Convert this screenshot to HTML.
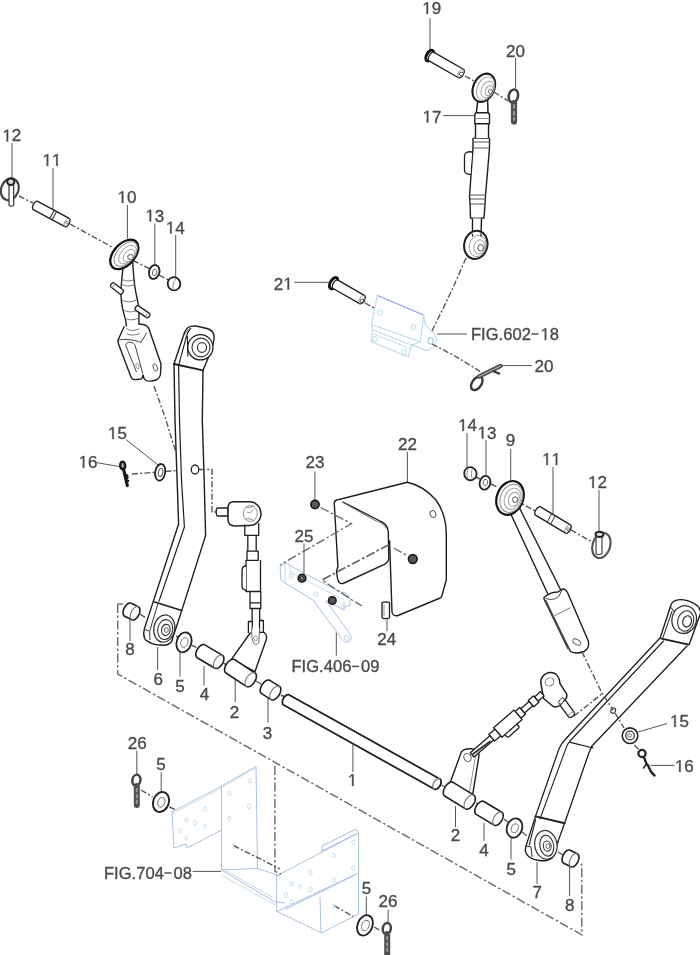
<!DOCTYPE html>
<html><head><meta charset="utf-8"><style>
html,body{margin:0;padding:0;background:#fff;}
body{width:700px;height:955px;overflow:hidden;}
svg{display:block;filter:blur(0.35px);}
text{font-family:"Liberation Sans",sans-serif;font-size:17px;fill:#4a4a4a;stroke:#4a4a4a;stroke-width:0.35px;}
.one{fill:#4a4a4a;stroke:#4a4a4a;stroke-width:42;}
.dash{fill:#4a4a4a;}
</style></head><body>
<svg width="700" height="955" viewBox="0 0 700 955">
<g transform="translate(422.25,14) scale(1.0,1)"><text x="9.45" y="0">9</text><path class="one" d="M515,0 L515,1237 L197,1010 L197,1180 L530,1409 L696,1409 L696,0 Z" transform="translate(0.00,0) scale(0.008301,-0.008301)"/></g>
<g transform="translate(506.05,56.5) scale(1.0,1)"><text x="0.00 9.45" y="0">20</text></g>
<g transform="translate(422.55,122.5) scale(1.0,1)"><text x="9.45" y="0">7</text><path class="one" d="M515,0 L515,1237 L197,1010 L197,1180 L530,1409 L696,1409 L696,0 Z" transform="translate(0.00,0) scale(0.008301,-0.008301)"/></g>
<g transform="translate(2.35,141.4) scale(1.0,1)"><text x="9.45" y="0">2</text><path class="one" d="M515,0 L515,1237 L197,1010 L197,1180 L530,1409 L696,1409 L696,0 Z" transform="translate(0.00,0) scale(0.008301,-0.008301)"/></g>
<g transform="translate(42.45,165.9) scale(1.0,1)"><path class="one" d="M515,0 L515,1237 L197,1010 L197,1180 L530,1409 L696,1409 L696,0 Z" transform="translate(0.00,0) scale(0.008301,-0.008301)"/><path class="one" d="M515,0 L515,1237 L197,1010 L197,1180 L530,1409 L696,1409 L696,0 Z" transform="translate(9.45,0) scale(0.008301,-0.008301)"/></g>
<g transform="translate(117.55,203) scale(1.0,1)"><text x="9.45" y="0">0</text><path class="one" d="M515,0 L515,1237 L197,1010 L197,1180 L530,1409 L696,1409 L696,0 Z" transform="translate(0.00,0) scale(0.008301,-0.008301)"/></g>
<g transform="translate(145.35,221.5) scale(1.0,1)"><text x="9.45" y="0">3</text><path class="one" d="M515,0 L515,1237 L197,1010 L197,1180 L530,1409 L696,1409 L696,0 Z" transform="translate(0.00,0) scale(0.008301,-0.008301)"/></g>
<g transform="translate(165.85,233.5) scale(1.0,1)"><text x="9.45" y="0">4</text><path class="one" d="M515,0 L515,1237 L197,1010 L197,1180 L530,1409 L696,1409 L696,0 Z" transform="translate(0.00,0) scale(0.008301,-0.008301)"/></g>
<g transform="translate(273.85,289.5) scale(1.0,1)"><text x="0.00" y="0">2</text><path class="one" d="M515,0 L515,1237 L197,1010 L197,1180 L530,1409 L696,1409 L696,0 Z" transform="translate(9.45,0) scale(0.008301,-0.008301)"/></g>
<g transform="translate(534.55,372) scale(1.0,1)"><text x="0.00 9.45" y="0">20</text></g>
<g transform="translate(458.15,431) scale(1.0,1)"><text x="9.45" y="0">4</text><path class="one" d="M515,0 L515,1237 L197,1010 L197,1180 L530,1409 L696,1409 L696,0 Z" transform="translate(0.00,0) scale(0.008301,-0.008301)"/></g>
<g transform="translate(477.55,438.5) scale(1.0,1)"><text x="9.45" y="0">3</text><path class="one" d="M515,0 L515,1237 L197,1010 L197,1180 L530,1409 L696,1409 L696,0 Z" transform="translate(0.00,0) scale(0.008301,-0.008301)"/></g>
<g transform="translate(505.77,446.4) scale(1.0,1)"><text x="0.00" y="0">9</text></g>
<g transform="translate(542.05,465) scale(1.0,1)"><path class="one" d="M515,0 L515,1237 L197,1010 L197,1180 L530,1409 L696,1409 L696,0 Z" transform="translate(0.00,0) scale(0.008301,-0.008301)"/><path class="one" d="M515,0 L515,1237 L197,1010 L197,1180 L530,1409 L696,1409 L696,0 Z" transform="translate(9.45,0) scale(0.008301,-0.008301)"/></g>
<g transform="translate(588.05,488) scale(1.0,1)"><text x="9.45" y="0">2</text><path class="one" d="M515,0 L515,1237 L197,1010 L197,1180 L530,1409 L696,1409 L696,0 Z" transform="translate(0.00,0) scale(0.008301,-0.008301)"/></g>
<g transform="translate(397.95,449.7) scale(1.0,1)"><text x="0.00 9.45" y="0">22</text></g>
<g transform="translate(305.45,468) scale(1.0,1)"><text x="0.00 9.45" y="0">23</text></g>
<g transform="translate(107.95,438.9) scale(1.0,1)"><text x="9.45" y="0">5</text><path class="one" d="M515,0 L515,1237 L197,1010 L197,1180 L530,1409 L696,1409 L696,0 Z" transform="translate(0.00,0) scale(0.008301,-0.008301)"/></g>
<g transform="translate(78.55,467.7) scale(1.0,1)"><text x="9.45" y="0">6</text><path class="one" d="M515,0 L515,1237 L197,1010 L197,1180 L530,1409 L696,1409 L696,0 Z" transform="translate(0.00,0) scale(0.008301,-0.008301)"/></g>
<g transform="translate(294.55,542) scale(1.0,1)"><text x="0.00 9.45" y="0">25</text></g>
<g transform="translate(377.25,645) scale(1.0,1)"><text x="0.00 9.45" y="0">24</text></g>
<g transform="translate(125.27,654.7) scale(1.0,1)"><text x="0.00" y="0">8</text></g>
<g transform="translate(153.47,685.3) scale(1.0,1)"><text x="0.00" y="0">6</text></g>
<g transform="translate(175.37,691.8) scale(1.0,1)"><text x="0.00" y="0">5</text></g>
<g transform="translate(199.77,699.6) scale(1.0,1)"><text x="0.00" y="0">4</text></g>
<g transform="translate(229.77,717.5) scale(1.0,1)"><text x="0.00" y="0">2</text></g>
<g transform="translate(262.77,738.8) scale(1.0,1)"><text x="0.00" y="0">3</text></g>
<g transform="translate(347.77,786) scale(1.0,1)"><path class="one" d="M515,0 L515,1237 L197,1010 L197,1180 L530,1409 L696,1409 L696,0 Z" transform="translate(0.00,0) scale(0.008301,-0.008301)"/></g>
<g transform="translate(669.95,727) scale(1.0,1)"><text x="9.45" y="0">5</text><path class="one" d="M515,0 L515,1237 L197,1010 L197,1180 L530,1409 L696,1409 L696,0 Z" transform="translate(0.00,0) scale(0.008301,-0.008301)"/></g>
<g transform="translate(674.85,772) scale(1.0,1)"><text x="9.45" y="0">6</text><path class="one" d="M515,0 L515,1237 L197,1010 L197,1180 L530,1409 L696,1409 L696,0 Z" transform="translate(0.00,0) scale(0.008301,-0.008301)"/></g>
<g transform="translate(127.85,749.3) scale(1.0,1)"><text x="0.00 9.45" y="0">26</text></g>
<g transform="translate(156.37,769.9) scale(1.0,1)"><text x="0.00" y="0">5</text></g>
<g transform="translate(450.77,841) scale(1.0,1)"><text x="0.00" y="0">2</text></g>
<g transform="translate(479.27,856) scale(1.0,1)"><text x="0.00" y="0">4</text></g>
<g transform="translate(506.57,875) scale(1.0,1)"><text x="0.00" y="0">5</text></g>
<g transform="translate(532.57,898.4) scale(1.0,1)"><text x="0.00" y="0">7</text></g>
<g transform="translate(565.07,910.6) scale(1.0,1)"><text x="0.00" y="0">8</text></g>
<g transform="translate(361.67,894.3) scale(1.0,1)"><text x="0.00" y="0">5</text></g>
<g transform="translate(378.55,907.2) scale(1.0,1)"><text x="0.00 9.45" y="0">26</text></g>
<g transform="translate(471.00,340) scale(0.975,1)"><text x="0.00 10.38 15.11 28.33 33.05 42.51 51.96 80.82" y="0">FIG.6028</text><rect class="dash" x="61.92" y="-6.7" width="7.4" height="1.4"/><path class="one" d="M515,0 L515,1237 L197,1010 L197,1180 L530,1409 L696,1409 L696,0 Z" transform="translate(71.37,0) scale(0.008301,-0.008301)"/></g>
<g transform="translate(291.50,672.4) scale(0.975,1)"><text x="0.00 10.38 15.11 28.33 33.05 42.51 51.96 71.37 80.82" y="0">FIG.40609</text><rect class="dash" x="61.92" y="-6.7" width="7.4" height="1.4"/></g>
<g transform="translate(104.00,879) scale(0.975,1)"><text x="0.00 10.38 15.11 28.33 33.05 42.51 51.96 71.37 80.82" y="0">FIG.70408</text><rect class="dash" x="61.92" y="-6.7" width="7.4" height="1.4"/></g>
<line x1="430" y1="18" x2="430" y2="50" stroke="#555" stroke-width="1.0"/>
<line x1="515.6" y1="58" x2="515.6" y2="88" stroke="#555" stroke-width="1.0"/>
<line x1="443" y1="115.6" x2="474" y2="115.6" stroke="#555" stroke-width="1.0"/>
<line x1="12" y1="143" x2="12" y2="178" stroke="#555" stroke-width="1.0"/>
<line x1="53" y1="168" x2="53" y2="210" stroke="#555" stroke-width="1.0"/>
<line x1="127.4" y1="205" x2="127.4" y2="238.5" stroke="#555" stroke-width="1.0"/>
<line x1="154.8" y1="223.6" x2="154.8" y2="265" stroke="#555" stroke-width="1.0"/>
<line x1="175.7" y1="235" x2="175.7" y2="277" stroke="#555" stroke-width="1.0"/>
<line x1="294.3" y1="282.3" x2="328.6" y2="282.3" stroke="#555" stroke-width="1.0"/>
<line x1="437" y1="334" x2="467" y2="334" stroke="#555" stroke-width="1.0"/>
<line x1="501" y1="365.6" x2="532" y2="365.6" stroke="#555" stroke-width="1.0"/>
<line x1="467" y1="433" x2="467" y2="468" stroke="#555" stroke-width="1.0"/>
<line x1="486" y1="440" x2="486" y2="475.6" stroke="#555" stroke-width="1.0"/>
<line x1="510.7" y1="449" x2="510.7" y2="480" stroke="#555" stroke-width="1.0"/>
<line x1="553" y1="467" x2="553" y2="514" stroke="#555" stroke-width="1.0"/>
<line x1="599" y1="490" x2="599" y2="531" stroke="#555" stroke-width="1.0"/>
<line x1="407.4" y1="452" x2="407.4" y2="482" stroke="#555" stroke-width="1.0"/>
<line x1="314.9" y1="471.4" x2="314.9" y2="500" stroke="#555" stroke-width="1.0"/>
<line x1="126" y1="439.5" x2="158.6" y2="465.4" stroke="#555" stroke-width="1.0"/>
<line x1="96" y1="462.5" x2="121.7" y2="467" stroke="#555" stroke-width="1.0"/>
<line x1="304" y1="543.6" x2="304" y2="574.3" stroke="#555" stroke-width="1.0"/>
<line x1="387" y1="619.7" x2="387" y2="631.3" stroke="#555" stroke-width="1.0"/>
<line x1="336.3" y1="632.6" x2="336.3" y2="655.7" stroke="#555" stroke-width="1.0"/>
<line x1="130" y1="619" x2="130" y2="641" stroke="#555" stroke-width="1.0"/>
<line x1="157.6" y1="647" x2="157.6" y2="670" stroke="#555" stroke-width="1.0"/>
<line x1="180" y1="652" x2="180" y2="676.6" stroke="#555" stroke-width="1.0"/>
<line x1="204" y1="666" x2="204" y2="685.6" stroke="#555" stroke-width="1.0"/>
<line x1="235.2" y1="679" x2="235.2" y2="702" stroke="#555" stroke-width="1.0"/>
<line x1="268" y1="694.6" x2="268" y2="722.8" stroke="#555" stroke-width="1.0"/>
<line x1="352.9" y1="744.6" x2="352.9" y2="772" stroke="#555" stroke-width="1.0"/>
<line x1="637.9" y1="732" x2="667" y2="723.6" stroke="#555" stroke-width="1.0"/>
<line x1="650.7" y1="765.4" x2="674.3" y2="765.4" stroke="#555" stroke-width="1.0"/>
<line x1="136.8" y1="750.6" x2="136.8" y2="775" stroke="#555" stroke-width="1.0"/>
<line x1="161.2" y1="772.4" x2="161.2" y2="791.7" stroke="#555" stroke-width="1.0"/>
<line x1="192.6" y1="871.4" x2="220.9" y2="871.4" stroke="#555" stroke-width="1.0"/>
<line x1="455.5" y1="806" x2="455.5" y2="827" stroke="#555" stroke-width="1.0"/>
<line x1="484" y1="823" x2="484" y2="841" stroke="#555" stroke-width="1.0"/>
<line x1="511" y1="837.7" x2="511" y2="859.6" stroke="#555" stroke-width="1.0"/>
<line x1="537" y1="862" x2="537" y2="884" stroke="#555" stroke-width="1.0"/>
<line x1="569.6" y1="867" x2="569.6" y2="896" stroke="#555" stroke-width="1.0"/>
<line x1="366.3" y1="896.5" x2="366.3" y2="915" stroke="#555" stroke-width="1.0"/>
<line x1="388.1" y1="909.5" x2="388.1" y2="923.7" stroke="#555" stroke-width="1.0"/>
<path d="M377.4,295.4 L423.7,315.1" fill="none" stroke="#a4aaf0" stroke-width="1.3" stroke-linejoin="round" stroke-linecap="round" />
<path d="M377.4,295.4 L371.4,324.6 L420.3,341.7 L423.7,315.1" fill="none" stroke="#b9dbe8" stroke-width="1.1" stroke-linejoin="round" stroke-linecap="round" />
<path d="M423.7,315.1 L425.4,324.6 L434.9,334.9 C436.5,338 436.5,342 435.7,343.4 C434.5,347 432,348.6 428,350.3 C425,350.5 422,349.5 419.5,347.8 C417,346.5 414,345.5 411.7,345.1" fill="none" stroke="#b9dbe8" stroke-width="1.1" stroke-linejoin="round" stroke-linecap="round" />
<path d="M371.4,324.6 L372.3,329.7 L411.7,345.1 L420.3,341.7 M372.3,329.7 L371.4,341.7 L408.3,357.1 L411.7,345.1 M372.3,331.5 L371.4,341.7" fill="none" stroke="#b9dbe8" stroke-width="1.1" stroke-linejoin="round" stroke-linecap="round" />
<path d="M374,334 L410,348.5" fill="none" stroke="#c9d3ef" stroke-width="0.9" stroke-linejoin="round" stroke-linecap="round" />
<ellipse cx="380" cy="312.6" rx="2.3" ry="2.7" transform="rotate(0 380 312.6)" fill="none" stroke="#b9dbe8" stroke-width="1.0"/>
<ellipse cx="413.4" cy="327.1" rx="2.3" ry="2.7" transform="rotate(0 413.4 327.1)" fill="none" stroke="#b9dbe8" stroke-width="1.0"/>
<ellipse cx="374.9" cy="339.1" rx="2.3" ry="2.7" transform="rotate(0 374.9 339.1)" fill="none" stroke="#b9dbe8" stroke-width="1.0"/>
<ellipse cx="404" cy="352" rx="2.3" ry="2.7" transform="rotate(0 404 352)" fill="none" stroke="#b9dbe8" stroke-width="1.0"/>
<ellipse cx="430.6" cy="340.9" rx="2.6" ry="3.1" transform="rotate(0 430.6 340.9)" fill="none" stroke="#9fc6dc" stroke-width="1.1"/>
<path d="M465,76 L474,81" fill="none" stroke="#555555" stroke-width="1.4" stroke-dasharray="6 2.2 2 2.2"/>
<path d="M494,92 L508,101" fill="none" stroke="#555555" stroke-width="1.4" stroke-dasharray="6 2.2 2 2.2"/>
<path d="M466,258 L452,290 L432,331" fill="none" stroke="#555555" stroke-width="1.4" stroke-dasharray="6 2.2 2 2.2"/>
<path d="M365,303 L374,308" fill="none" stroke="#555555" stroke-width="1.4" stroke-dasharray="6 2.2 2 2.2"/>
<path d="M432,344 L455,356 L481,372" fill="none" stroke="#555555" stroke-width="1.4" stroke-dasharray="6 2.2 2 2.2"/>
<ellipse cx="429.8" cy="55.6" rx="6.0" ry="3.2" transform="rotate(119 429.8 55.6)" fill="#fff" stroke="#111" stroke-width="2.8"/>
<path d="M458.56,77.75 L459.03,77.91 L459.56,77.89 L460.16,77.71 L460.78,77.37 L461.41,76.87 L462.03,76.25 L462.61,75.52 L463.13,74.72 L463.56,73.86 L463.90,73.00 L464.12,72.15 L464.23,71.35 L464.21,70.64 L464.06,70.04 L463.80,69.57 L463.44,69.25 L433.94,52.35 L433.47,52.19 L432.94,52.21 L432.34,52.39 L431.72,52.73 L431.09,53.23 L430.47,53.85 L429.89,54.58 L429.37,55.38 L428.94,56.24 L428.60,57.10 L428.38,57.95 L428.27,58.75 L428.29,59.46 L428.44,60.06 L428.70,60.53 L429.06,60.85 Z" fill="#fff" stroke="#1e1e1e" stroke-width="1.3" stroke-linejoin="round" stroke-linecap="round" />
<path d="M463.44,69.25 L462.97,69.09 L462.44,69.11 L461.84,69.29 L461.22,69.63 L460.59,70.13 L459.97,70.75 L459.39,71.48 L458.87,72.28 L458.44,73.14 L458.10,74.00 L457.88,74.85 L457.77,75.65 L457.79,76.36 L457.94,76.96 L458.20,77.43 L458.56,77.75" fill="none" stroke="#777" stroke-width="0.9099999999999999" stroke-linejoin="round" stroke-linecap="round" />
<ellipse cx="461.5" cy="74" rx="2.2" ry="1.8" transform="rotate(0 461.5 74)" fill="none" stroke="#555" stroke-width="1.0"/>
<path d="M477.7,101.5 L476.3,112.8 M487.6,98.5 L488,112.8" fill="none" stroke="#1e1e1e" stroke-width="1.5" stroke-linejoin="round" stroke-linecap="round" />
<ellipse cx="483.8" cy="87.8" rx="10.5" ry="14.8" transform="rotate(25 483.8 87.8)" fill="#fff" stroke="#1a1a1a" stroke-width="2.0"/>
<ellipse cx="485.6" cy="88.6" rx="8.3" ry="12.3" transform="rotate(25 485.6 88.6)" fill="none" stroke="#999" stroke-width="0.9"/>
<ellipse cx="487.4" cy="89.6" rx="5.8" ry="8.8" transform="rotate(25 487.4 89.6)" fill="none" stroke="#999" stroke-width="0.9"/>
<ellipse cx="489" cy="90.6" rx="3.4" ry="5.2" transform="rotate(25 489 90.6)" fill="none" stroke="#888" stroke-width="0.9"/>
<ellipse cx="490.2" cy="91.4" rx="1.8" ry="2.2" transform="rotate(0 490.2 91.4)" fill="#fff" stroke="#666" stroke-width="0.9"/>
<path d="M474.8,115 C474.8,113.5 475.5,112.8 477,112.8 L487.5,112.8 C489,112.8 489.5,113.5 489.5,115 L489.5,123.8 L474.8,123.8 Z" fill="#fff" stroke="#1e1e1e" stroke-width="1.4" stroke-linejoin="round" stroke-linecap="round" />
<path d="M475,118.5 L489.3,118.5" fill="none" stroke="#888" stroke-width="0.9" stroke-linejoin="round" stroke-linecap="round" />
<path d="M475.5,123.8 L475.5,138 L473,138.5 L473,148 L469.5,196 L470,204 L470.5,218 L472.5,218.5 L472.5,236 M488.6,123.8 L488.5,138 L489.5,138.5 L489.5,148 L485.5,196 L485,204 L484,218 L481.5,218.5 L481,236" fill="none" stroke="#1e1e1e" stroke-width="1.4" stroke-linejoin="round" stroke-linecap="round" />
<path d="M473,138.5 L489.5,138.5 M473,142 L489.5,142 M473,148 L489.5,148 M469.6,195 L485.6,195 M470,199 L485.3,199 M470,204 L485,204 M470.5,218 L484,218" fill="none" stroke="#555" stroke-width="1.0" stroke-linejoin="round" stroke-linecap="round" />
<path d="M472,152 C467,151 464.5,153 464.5,156 L464.5,170 C464.5,173 467,174.5 470.5,174.5" fill="#fff" stroke="#1e1e1e" stroke-width="1.3" stroke-linejoin="round" stroke-linecap="round" />
<ellipse cx="475.8" cy="244.9" rx="11.6" ry="14.2" transform="rotate(12 475.8 244.9)" fill="#fff" stroke="#1e1e1e" stroke-width="2.0"/>
<ellipse cx="477.6" cy="246" rx="8.3" ry="10.8" transform="rotate(12 477.6 246)" fill="none" stroke="#999" stroke-width="0.9"/>
<ellipse cx="479.3" cy="247" rx="5.4" ry="7.2" transform="rotate(12 479.3 247)" fill="none" stroke="#999" stroke-width="0.9"/>
<ellipse cx="480.7" cy="247.8" rx="2.8" ry="3.2" transform="rotate(0 480.7 247.8)" fill="#fff" stroke="#555" stroke-width="1.0"/>
<path d="M472.5,234.5 L472.5,236 M481,233.8 L481,236" fill="none" stroke="#1e1e1e" stroke-width="1.3" stroke-linejoin="round" stroke-linecap="round" />
<ellipse cx="513.4" cy="96" rx="4.6" ry="6.6" transform="rotate(12 513.4 96)" fill="none" stroke="#444" stroke-width="2.6"/>
<path d="M514,103 L514,121.5" fill="none" stroke="#505050" stroke-width="6.2" stroke-linejoin="round" stroke-linecap="round" />
<path d="M514,105 L514,108 M514,112 L514,115 M514,118 L514,120" fill="none" stroke="#999" stroke-width="2.0" stroke-linejoin="round" stroke-linecap="round" />
<ellipse cx="333.6" cy="283.2" rx="6.2" ry="3.3" transform="rotate(120 333.6 283.2)" fill="#fff" stroke="#111" stroke-width="2.9"/>
<path d="M359.61,303.66 L360.06,303.82 L360.59,303.80 L361.17,303.63 L361.78,303.29 L362.40,302.81 L363.01,302.20 L363.58,301.48 L364.08,300.69 L364.51,299.86 L364.84,299.01 L365.06,298.18 L365.16,297.40 L365.14,296.70 L365.00,296.11 L364.75,295.65 L364.39,295.34 L337.89,280.14 L337.44,279.98 L336.91,280.00 L336.33,280.17 L335.72,280.51 L335.10,280.99 L334.49,281.60 L333.92,282.32 L333.42,283.11 L332.99,283.94 L332.66,284.79 L332.44,285.62 L332.34,286.40 L332.36,287.10 L332.50,287.69 L332.75,288.15 L333.11,288.46 Z" fill="#fff" stroke="#1e1e1e" stroke-width="1.3" stroke-linejoin="round" stroke-linecap="round" />
<path d="M364.39,295.34 L363.94,295.18 L363.41,295.20 L362.83,295.37 L362.22,295.71 L361.60,296.19 L360.99,296.80 L360.42,297.52 L359.92,298.31 L359.49,299.14 L359.16,299.99 L358.94,300.82 L358.84,301.60 L358.86,302.30 L359.00,302.89 L359.25,303.35 L359.61,303.66" fill="none" stroke="#777" stroke-width="0.9099999999999999" stroke-linejoin="round" stroke-linecap="round" />
<ellipse cx="362.5" cy="301" rx="2.4" ry="1.9" transform="rotate(0 362.5 301)" fill="none" stroke="#555" stroke-width="1.0"/>
<ellipse cx="476.8" cy="383.3" rx="4.6" ry="7.6" transform="rotate(35 476.8 383.3)" fill="none" stroke="#3a3a3a" stroke-width="2.4"/>
<path d="M479,376.5 L500.5,366" fill="none" stroke="#4a4a4a" stroke-width="4.2" stroke-linejoin="round" stroke-linecap="round" />
<path d="M479,376.5 L500.5,366" fill="none" stroke="#9a9a9a" stroke-width="1.4" stroke-linejoin="round" stroke-linecap="round" />
<path d="M494,371.5 L499,373.5" fill="none" stroke="#333" stroke-width="2.4" stroke-linejoin="round" stroke-linecap="round" />
<path d="M19,196 L33,203" fill="none" stroke="#555555" stroke-width="1.4" stroke-dasharray="6 2.2 2 2.2"/>
<path d="M70,224 L112,247" fill="none" stroke="#555555" stroke-width="1.4" stroke-dasharray="6 2.2 2 2.2"/>
<path d="M133,260.5 L150,269" fill="none" stroke="#555555" stroke-width="1.4" stroke-dasharray="6 2.2 2 2.2"/>
<path d="M159,275 L168.6,280" fill="none" stroke="#555555" stroke-width="1.4" stroke-dasharray="6 2.2 2 2.2"/>
<ellipse cx="9.8" cy="189.3" rx="8.6" ry="11.2" transform="rotate(20 9.8 189.3)" fill="none" stroke="#444" stroke-width="2.2"/>
<path d="M9,184 L9,205 C9,206.5 13.7,206.5 13.7,205 L13.7,184" fill="#fff" stroke="#333" stroke-width="1.2" stroke-linejoin="round" stroke-linecap="round" />
<ellipse cx="10.8" cy="181.8" rx="3.6" ry="3.2" transform="rotate(0 10.8 181.8)" fill="#ddd" stroke="#222" stroke-width="2.0"/>
<path d="M64.77,226.64 L65.21,226.77 L65.73,226.75 L66.29,226.56 L66.88,226.21 L67.48,225.73 L68.06,225.11 L68.59,224.40 L69.07,223.62 L69.46,222.79 L69.76,221.95 L69.96,221.13 L70.04,220.36 L70.00,219.68 L69.85,219.11 L69.59,218.66 L69.23,218.36 L37.73,201.36 L37.29,201.23 L36.77,201.25 L36.21,201.44 L35.62,201.79 L35.02,202.27 L34.44,202.89 L33.91,203.60 L33.43,204.38 L33.04,205.21 L32.74,206.05 L32.54,206.87 L32.46,207.64 L32.50,208.32 L32.65,208.89 L32.91,209.34 L33.27,209.64 Z" fill="#fff" stroke="#1e1e1e" stroke-width="1.3" stroke-linejoin="round" stroke-linecap="round" />
<path d="M69.23,218.36 L68.79,218.23 L68.27,218.25 L67.71,218.44 L67.12,218.79 L66.52,219.27 L65.94,219.89 L65.41,220.60 L64.93,221.38 L64.54,222.21 L64.24,223.05 L64.04,223.87 L63.96,224.64 L64.00,225.32 L64.15,225.89 L64.41,226.34 L64.77,226.64" fill="none" stroke="#777" stroke-width="0.9099999999999999" stroke-linejoin="round" stroke-linecap="round" />
<path d="M54.2,210.3 L49.8,218.5 M56.6,211.6 L52.2,219.8" fill="none" stroke="#333" stroke-width="1.1" stroke-linejoin="round" stroke-linecap="round" />
<ellipse cx="67.2" cy="222.6" rx="1.6" ry="1.3" transform="rotate(0 67.2 222.6)" fill="none" stroke="#555" stroke-width="0.8"/>
<ellipse cx="124.3" cy="254.4" rx="17.4" ry="10.6" transform="rotate(-48 124.3 254.4)" fill="#fff" stroke="#111" stroke-width="2.3"/>
<ellipse cx="125.8" cy="254" rx="14.6" ry="8.6" transform="rotate(-48 125.8 254)" fill="none" stroke="#888" stroke-width="1.0"/>
<ellipse cx="127.5" cy="254.6" rx="11" ry="6.6" transform="rotate(-48 127.5 254.6)" fill="none" stroke="#999" stroke-width="0.9"/>
<ellipse cx="129" cy="255.6" rx="7.2" ry="4.6" transform="rotate(-48 129 255.6)" fill="none" stroke="#999" stroke-width="0.9"/>
<ellipse cx="130.5" cy="257" rx="2.8" ry="2.6" transform="rotate(0 130.5 257)" fill="#fff" stroke="#555" stroke-width="1.0"/>
<ellipse cx="154.2" cy="272" rx="5.2" ry="7" transform="rotate(15 154.2 272)" fill="#fff" stroke="#222" stroke-width="1.8"/>
<ellipse cx="154.6" cy="272.4" rx="2.2" ry="3.3" transform="rotate(15 154.6 272.4)" fill="none" stroke="#666" stroke-width="0.9"/>
<ellipse cx="174" cy="283.8" rx="6.3" ry="6.6" transform="rotate(-20 174 283.8)" fill="#fff" stroke="#222" stroke-width="1.8"/>
<path d="M175.5,279 C173.5,282 172.5,286 173,289" fill="none" stroke="#888" stroke-width="0.9" stroke-linejoin="round" stroke-linecap="round" />
<path d="M123,268 C122,276 121,286 121,295 C121,305 123.5,313 125.6,320 L126.5,327 M132.7,262 C133,270 134,278 134.5,284 C135.5,293 138,301 139,309 L138.8,327" fill="none" stroke="#1e1e1e" stroke-width="1.4" stroke-linejoin="round" stroke-linecap="round" />
<path d="M121.5,279 C125,281.5 130,281.5 134,279.5 M121.2,284 C125,286.5 130,286.5 134.5,284.5 M122,300 C126,302.5 132,302.5 136.5,300 M123.5,310 C127,312.5 133,312.5 138.5,310 M124.5,318 C128,320.5 133.5,320.5 138.8,318" fill="none" stroke="#666" stroke-width="0.9" stroke-linejoin="round" stroke-linecap="round" />
<path d="M114.10,282.95 L113.83,282.80 L113.50,282.74 L113.14,282.76 L112.76,282.87 L112.36,283.06 L111.97,283.33 L111.60,283.66 L111.27,284.04 L110.98,284.46 L110.75,284.90 L110.59,285.34 L110.50,285.77 L110.49,286.17 L110.55,286.53 L110.69,286.83 L110.90,287.05 L119.90,294.05 L120.17,294.20 L120.50,294.26 L120.86,294.24 L121.24,294.13 L121.64,293.94 L122.03,293.67 L122.40,293.34 L122.73,292.96 L123.02,292.54 L123.25,292.10 L123.41,291.66 L123.50,291.23 L123.51,290.83 L123.45,290.47 L123.31,290.17 L123.10,289.95 Z" fill="#fff" stroke="#1e1e1e" stroke-width="1.3" stroke-linejoin="round" stroke-linecap="round" />
<path d="M110.90,287.05 L111.17,287.20 L111.50,287.26 L111.86,287.24 L112.24,287.13 L112.64,286.94 L113.03,286.67 L113.40,286.34 L113.73,285.96 L114.02,285.54 L114.25,285.10 L114.41,284.66 L114.50,284.23 L114.51,283.83 L114.45,283.47 L114.31,283.17 L114.10,282.95" fill="none" stroke="#777" stroke-width="0.9099999999999999" stroke-linejoin="round" stroke-linecap="round" />
<path d="M146.54,317.65 L146.81,317.78 L147.14,317.82 L147.50,317.77 L147.88,317.64 L148.26,317.42 L148.63,317.13 L148.98,316.78 L149.29,316.38 L149.55,315.94 L149.75,315.49 L149.89,315.04 L149.95,314.60 L149.93,314.20 L149.85,313.85 L149.69,313.56 L149.46,313.35 L138.46,305.85 L138.19,305.72 L137.86,305.68 L137.50,305.73 L137.12,305.86 L136.74,306.08 L136.37,306.37 L136.02,306.72 L135.71,307.12 L135.45,307.56 L135.25,308.01 L135.11,308.46 L135.05,308.90 L135.07,309.30 L135.15,309.65 L135.31,309.94 L135.54,310.15 Z" fill="#fff" stroke="#1e1e1e" stroke-width="1.3" stroke-linejoin="round" stroke-linecap="round" />
<path d="M149.46,313.35 L149.19,313.22 L148.86,313.18 L148.50,313.23 L148.12,313.36 L147.74,313.58 L147.37,313.87 L147.02,314.22 L146.71,314.62 L146.45,315.06 L146.25,315.51 L146.11,315.96 L146.05,316.40 L146.07,316.80 L146.15,317.15 L146.31,317.44 L146.54,317.65" fill="none" stroke="#777" stroke-width="0.9099999999999999" stroke-linejoin="round" stroke-linecap="round" />
<path d="M124,327 L118,340 L118.5,344 L131,377 C132,379.5 134,380 137,379.5 L141,379 C142.5,378 143,377 143,375 L144,378.5 C145,380.5 148,381.5 152,381 L156,380 C158.5,379 160,377 160.5,374 L161,364 L149,329 C148,326.5 146,325 143,324.5 L139,324" fill="#fff" stroke="#1e1e1e" stroke-width="1.4" stroke-linejoin="round" stroke-linecap="round" />
<path d="M136.4,371.7 L125.7,345.4 C126,343 128,342 130,342.2 C132.5,342.5 134.5,343.5 135.2,345.5 L142.6,373 M118.5,340 C125,338.5 135,340 141,342.5 L146.5,333" fill="none" stroke="#444" stroke-width="1.0" stroke-linejoin="round" stroke-linecap="round" />
<path d="M126.5,328.5 C129,331 135,331 139,329 M127,334 C130,335.5 135,335.5 139.3,333.5" fill="none" stroke="#666" stroke-width="0.9" stroke-linejoin="round" stroke-linecap="round" />
<ellipse cx="155.3" cy="367.5" rx="2" ry="3.8" transform="rotate(-20 155.3 367.5)" fill="none" stroke="#555" stroke-width="0.9"/>
<ellipse cx="137.5" cy="366" rx="1.4" ry="3" transform="rotate(-20 137.5 366)" fill="none" stroke="#888" stroke-width="0.8"/>
<path d="M154,386 L166,420 L172,440 L176,452" fill="none" stroke="#555555" stroke-width="1.4" stroke-dasharray="6 2.2 2 2.2"/>
<path d="M174,364 L175,420 L177.1,480 L178.6,524 L153.4,601.1 M203,370.4 L202.3,420 L204.2,480 L205.6,535.6 L181.7,610.6" fill="none" stroke="#1e1e1e" stroke-width="1.4" stroke-linejoin="round" stroke-linecap="round" />
<path d="M178.6,365.3 L179.5,420 L181.5,480 L184.4,527 L159,601.1" fill="none" stroke="#1e1e1e" stroke-width="1.2" stroke-linejoin="round" stroke-linecap="round" />
<path d="M174,364 L184.3,333 C185.5,330 186.5,328.5 188,327.5 C190,326.3 193,325.8 196,326 L207,328.5 C210.5,329.5 213,331.5 213.9,335 C214.5,338 213.5,344 211,351 L203,370.4" fill="#fff" stroke="#1e1e1e" stroke-width="1.4" stroke-linejoin="round" stroke-linecap="round" />
<path d="M178.6,365.3 L186.3,337 C187,334 188,331 190.5,328.5 M187.3,336 L187.8,356" fill="none" stroke="#1e1e1e" stroke-width="1.1" stroke-linejoin="round" stroke-linecap="round" />
<path d="M174,364 L203,370.4" fill="none" stroke="#1e1e1e" stroke-width="1.8" stroke-linejoin="round" stroke-linecap="round" />
<ellipse cx="200.4" cy="347.3" rx="12.6" ry="12.6" transform="rotate(0 200.4 347.3)" fill="#fff" stroke="#1e1e1e" stroke-width="1.3"/>
<ellipse cx="201" cy="347.5" rx="9" ry="9.4" transform="rotate(0 201 347.5)" fill="none" stroke="#333" stroke-width="1.1"/>
<ellipse cx="202" cy="347.5" rx="4.6" ry="4.8" transform="rotate(0 202 347.5)" fill="#fff" stroke="#333" stroke-width="1.2"/>
<path d="M184.5,335 C186,331 188.5,329 191,328.5" fill="none" stroke="#555" stroke-width="0.9" stroke-linejoin="round" stroke-linecap="round" />
<ellipse cx="195" cy="469.5" rx="3.8" ry="4.5" transform="rotate(0 195 469.5)" fill="#fff" stroke="#222" stroke-width="1.3"/>
<path d="M153.4,601.1 L144.4,628.6 C143.4,632 143.5,635.5 144.4,638 C145.3,640 146.5,641 147.9,641.4 C150.5,643.3 153.5,644.5 156.4,644.8 L165,645.3 C167.5,645 169.5,644 171,642.3 C172,641 172.5,639.5 172.7,638 L175.3,630.3 L181.7,610.6" fill="#fff" stroke="#1e1e1e" stroke-width="1.4" stroke-linejoin="round" stroke-linecap="round" />
<path d="M154.7,602 L181.7,610.6" fill="none" stroke="#1e1e1e" stroke-width="1.6" stroke-linejoin="round" stroke-linecap="round" />
<path d="M158.1,602.9 L150,630.3 M144.4,629.4 L149.6,631.1 L150,639.7" fill="none" stroke="#333" stroke-width="1.0" stroke-linejoin="round" stroke-linecap="round" />
<ellipse cx="164.3" cy="628.6" rx="10.5" ry="13.7" transform="rotate(10 164.3 628.6)" fill="#fff" stroke="#333" stroke-width="1.2"/>
<ellipse cx="165.2" cy="629.6" rx="7.5" ry="10" transform="rotate(10 165.2 629.6)" fill="none" stroke="#333" stroke-width="1.1"/>
<ellipse cx="165.9" cy="629.9" rx="4.3" ry="5.6" transform="rotate(10 165.9 629.9)" fill="#fff" stroke="#333" stroke-width="1.1"/>
<ellipse cx="166.3" cy="630" rx="2.0" ry="2.4" transform="rotate(0 166.3 630)" fill="none" stroke="#555" stroke-width="0.9"/>
<path d="M132,474 L155,472.3" fill="none" stroke="#555555" stroke-width="1.4" stroke-dasharray="6 2.2 2 2.2"/>
<path d="M165.4,471.4 L176,470.6" fill="none" stroke="#555555" stroke-width="1.4" stroke-dasharray="6 2.2 2 2.2"/>
<ellipse cx="160.2" cy="472.3" rx="5" ry="8.4" transform="rotate(10 160.2 472.3)" fill="#fff" stroke="#222" stroke-width="1.8"/>
<ellipse cx="160.6" cy="472.5" rx="2.2" ry="4" transform="rotate(10 160.6 472.5)" fill="none" stroke="#555" stroke-width="1.0"/>
<ellipse cx="122.7" cy="465.6" rx="2.4" ry="3.8" transform="rotate(-5 122.7 465.6)" fill="#bbb" stroke="#1a1a1a" stroke-width="2.6"/>
<path d="M123.5,469 L127.3,485.5" fill="none" stroke="#1a1a1a" stroke-width="3.2" stroke-linejoin="round" stroke-linecap="round" />
<path d="M124.5,474 C127,474.5 128,476 127.5,478 M126,480 L128.5,481" fill="none" stroke="#1a1a1a" stroke-width="2.0" stroke-linejoin="round" stroke-linecap="round" />
<path d="M199,469.5 L212,469.5 L212,512 L217,512" fill="none" stroke="#555555" stroke-width="1.4" stroke-dasharray="6 2.2 2 2.2"/>
<path d="M140,614 L146,618" fill="none" stroke="#555555" stroke-width="1.4" stroke-dasharray="6 2.2 2 2.2"/>
<path d="M131.84,619.83 L132.60,620.05 L133.46,620.02 L134.38,619.73 L135.33,619.19 L136.27,618.42 L137.17,617.46 L137.99,616.33 L138.69,615.10 L139.26,613.79 L139.67,612.46 L139.90,611.17 L139.95,609.95 L139.81,608.87 L139.49,607.95 L139.00,607.25 L138.36,606.77 L131.16,603.17 L130.40,602.95 L129.54,602.98 L128.62,603.27 L127.67,603.81 L126.73,604.58 L125.83,605.54 L125.01,606.67 L124.31,607.90 L123.74,609.21 L123.33,610.54 L123.10,611.83 L123.05,613.05 L123.19,614.13 L123.51,615.05 L124.00,615.75 L124.64,616.23 Z" fill="#fff" stroke="#1e1e1e" stroke-width="1.6" stroke-linejoin="round" stroke-linecap="round" />
<path d="M138.36,606.77 L137.60,606.55 L136.74,606.58 L135.82,606.87 L134.87,607.41 L133.93,608.18 L133.03,609.14 L132.21,610.27 L131.51,611.50 L130.94,612.81 L130.53,614.14 L130.30,615.43 L130.25,616.65 L130.39,617.73 L130.71,618.65 L131.20,619.35 L131.84,619.83" fill="none" stroke="#777" stroke-width="1.1199999999999999" stroke-linejoin="round" stroke-linecap="round" />
<path d="M176,636 L180,638" fill="none" stroke="#555555" stroke-width="1.4" stroke-dasharray="6 2.2 2 2.2"/>
<ellipse cx="184" cy="642.3" rx="7.3" ry="10.2" transform="rotate(18 184 642.3)" fill="#fff" stroke="#222" stroke-width="1.8"/>
<ellipse cx="184.3" cy="642.5" rx="3.5" ry="5" transform="rotate(18 184.3 642.5)" fill="none" stroke="#777" stroke-width="0.9"/>
<path d="M191,645 L198,648" fill="none" stroke="#555555" stroke-width="1.4" stroke-dasharray="6 2.2 2 2.2"/>
<path d="M214.87,668.25 L215.64,668.54 L216.52,668.56 L217.49,668.33 L218.50,667.85 L219.52,667.13 L220.51,666.21 L221.43,665.12 L222.25,663.90 L222.93,662.61 L223.44,661.28 L223.78,659.97 L223.91,658.73 L223.85,657.61 L223.59,656.65 L223.15,655.88 L222.53,655.35 L204.83,644.85 L204.06,644.56 L203.18,644.54 L202.21,644.77 L201.20,645.25 L200.18,645.97 L199.19,646.89 L198.27,647.98 L197.45,649.20 L196.77,650.49 L196.26,651.82 L195.92,653.13 L195.79,654.37 L195.85,655.49 L196.11,656.45 L196.55,657.22 L197.17,657.75 Z" fill="#fff" stroke="#1e1e1e" stroke-width="1.6" stroke-linejoin="round" stroke-linecap="round" />
<path d="M222.53,655.35 L221.76,655.06 L220.88,655.04 L219.91,655.27 L218.90,655.75 L217.88,656.47 L216.89,657.39 L215.97,658.48 L215.15,659.70 L214.47,660.99 L213.96,662.32 L213.62,663.63 L213.49,664.87 L213.55,665.99 L213.81,666.95 L214.25,667.72 L214.87,668.25" fill="none" stroke="#777" stroke-width="1.1199999999999999" stroke-linejoin="round" stroke-linecap="round" />
<path d="M223,663 L227,665" fill="none" stroke="#555555" stroke-width="1.4" stroke-dasharray="6 2.2 2 2.2"/>
<path d="M250.2,633 L231.4,659.3 L255,671.6 L266.3,639.5 C267,636 266,633.5 263.5,632 L250.2,633 Z" fill="#fff" stroke="#1e1e1e" stroke-width="1.4" stroke-linejoin="round" stroke-linecap="round" />
<path d="M248.4,632.5 L248.4,621.5 L252.3,621.5 L252.3,632 M259.5,631.5 L259.5,620.5 L263.4,620.5 L263.4,631.5" fill="#fff" stroke="#1e1e1e" stroke-width="1.3" stroke-linejoin="round" stroke-linecap="round" />
<path d="M252.3,627 C251,632 251.5,640 254,643.5 C256,645.5 258.5,644.5 259,641 L259.5,628" fill="#fff" stroke="#666" stroke-width="1.0" stroke-linejoin="round" stroke-linecap="round" />
<ellipse cx="255.6" cy="638.5" rx="1.8" ry="2.6" transform="rotate(0 255.6 638.5)" fill="none" stroke="#888" stroke-width="0.9"/>
<path d="M246.31,686.39 L247.11,686.73 L248.05,686.80 L249.09,686.60 L250.19,686.14 L251.32,685.42 L252.42,684.49 L253.45,683.37 L254.38,682.12 L255.16,680.76 L255.78,679.37 L256.20,677.99 L256.41,676.68 L256.40,675.48 L256.17,674.45 L255.73,673.61 L255.09,673.01 L234.69,659.61 L233.89,659.27 L232.95,659.20 L231.91,659.40 L230.81,659.86 L229.68,660.58 L228.58,661.51 L227.55,662.63 L226.62,663.88 L225.84,665.24 L225.22,666.63 L224.80,668.01 L224.59,669.32 L224.60,670.52 L224.83,671.55 L225.27,672.39 L225.91,672.99 Z" fill="#fff" stroke="#1e1e1e" stroke-width="1.6" stroke-linejoin="round" stroke-linecap="round" />
<path d="M255.09,673.01 L254.29,672.67 L253.35,672.60 L252.31,672.80 L251.21,673.26 L250.08,673.98 L248.98,674.91 L247.95,676.03 L247.02,677.28 L246.24,678.64 L245.62,680.03 L245.20,681.41 L244.99,682.72 L245.00,683.92 L245.23,684.95 L245.67,685.79 L246.31,686.39" fill="none" stroke="#777" stroke-width="1.1199999999999999" stroke-linejoin="round" stroke-linecap="round" />
<path d="M256,681 L261,684" fill="none" stroke="#555555" stroke-width="1.4" stroke-dasharray="6 2.2 2 2.2"/>
<path d="M271.17,699.61 L271.96,699.93 L272.87,699.98 L273.88,699.76 L274.95,699.28 L276.03,698.57 L277.08,697.63 L278.06,696.52 L278.94,695.27 L279.67,693.94 L280.24,692.57 L280.62,691.22 L280.80,689.93 L280.76,688.76 L280.51,687.76 L280.06,686.96 L279.43,686.39 L269.83,680.39 L269.04,680.07 L268.13,680.02 L267.12,680.24 L266.05,680.72 L264.97,681.43 L263.92,682.37 L262.94,683.48 L262.06,684.73 L261.33,686.06 L260.76,687.43 L260.38,688.78 L260.20,690.07 L260.24,691.24 L260.49,692.24 L260.94,693.04 L261.57,693.61 Z" fill="#fff" stroke="#1e1e1e" stroke-width="1.6" stroke-linejoin="round" stroke-linecap="round" />
<path d="M279.43,686.39 L278.64,686.07 L277.73,686.02 L276.72,686.24 L275.65,686.72 L274.57,687.43 L273.52,688.37 L272.54,689.48 L271.66,690.73 L270.93,692.06 L270.36,693.43 L269.98,694.78 L269.80,696.07 L269.84,697.24 L270.09,698.24 L270.54,699.04 L271.17,699.61" fill="none" stroke="#777" stroke-width="1.1199999999999999" stroke-linejoin="round" stroke-linecap="round" />
<path d="M281,695 L285,697" fill="none" stroke="#555555" stroke-width="1.4" stroke-dasharray="6 2.2 2 2.2"/>
<path d="M217.5,508 L228,508 L228,516 L217.5,516 C216,516 215.5,508 217.5,508 Z" fill="#fff" stroke="#1e1e1e" stroke-width="1.3" stroke-linejoin="round" stroke-linecap="round" />
<path d="M228,508 C228,504 230,501.8 234,501.8 L249,501.8 C256,501.8 261,507 261,513.5 C261,520 256,525.5 249.5,525.5 L235,526 C230.5,526 228,523.5 228,519 Z" fill="#fff" stroke="#1e1e1e" stroke-width="1.5" stroke-linejoin="round" stroke-linecap="round" />
<ellipse cx="250.3" cy="513.5" rx="7" ry="8" transform="rotate(0 250.3 513.5)" fill="none" stroke="#888" stroke-width="0.9"/>
<path d="M246,507 C249,508 252,507 254,506 M247,512 C249,514 252,512 253,510 M246,519 C249,518 252,519 254,521" fill="none" stroke="#777" stroke-width="0.9" stroke-linejoin="round" stroke-linecap="round" />
<path d="M244.8,525 L244.8,535.3 L258.7,535.3 L258.7,523.6 M247.8,535.3 L247.8,551.2 M256.2,535.3 L256.2,551.2 M247,551.2 L258.2,551.2 L258.2,560.4 L247,560.4 Z M246,560.4 L246,591.5 L260.5,591.5 L260.5,560.4 M250,591.5 L250,608.5 L260.8,608.5 L260.8,591.5 M250,602.8 L260.8,602.8 M252.1,608.5 L252.1,621 M259.7,608.5 L259.7,621" fill="none" stroke="#1e1e1e" stroke-width="1.3" stroke-linejoin="round" stroke-linecap="round" />
<path d="M246,566 C243,566 242,568 242,571 L242,586 C242,589 243.5,590 246,590" fill="#fff" stroke="#1e1e1e" stroke-width="1.3" stroke-linejoin="round" stroke-linecap="round" />
<path d="M434.17,789.06 L434.82,789.30 L435.55,789.33 L436.34,789.15 L437.15,788.78 L437.96,788.22 L438.73,787.51 L439.43,786.65 L440.04,785.70 L440.53,784.68 L440.89,783.63 L441.10,782.60 L441.15,781.62 L441.04,780.73 L440.77,779.97 L440.37,779.36 L439.83,778.94 L289.33,694.94 L288.68,694.70 L287.95,694.67 L287.16,694.85 L286.35,695.22 L285.54,695.78 L284.77,696.49 L284.07,697.35 L283.46,698.30 L282.97,699.32 L282.61,700.37 L282.40,701.40 L282.35,702.38 L282.46,703.27 L282.73,704.03 L283.13,704.64 L283.67,705.06 Z" fill="#fff" stroke="#1e1e1e" stroke-width="1.8" stroke-linejoin="round" stroke-linecap="round" />
<path d="M439.83,778.94 L439.18,778.70 L438.45,778.67 L437.66,778.85 L436.85,779.22 L436.04,779.78 L435.27,780.49 L434.57,781.35 L433.96,782.30 L433.47,783.32 L433.11,784.37 L432.90,785.40 L432.85,786.38 L432.96,787.27 L433.23,788.03 L433.63,788.64 L434.17,789.06" fill="none" stroke="#777" stroke-width="1.26" stroke-linejoin="round" stroke-linecap="round" />
<path d="M476,477 L480,479" fill="none" stroke="#555555" stroke-width="1.4" stroke-dasharray="6 2.2 2 2.2"/>
<path d="M491,484 L497,487" fill="none" stroke="#555555" stroke-width="1.4" stroke-dasharray="6 2.2 2 2.2"/>
<path d="M515,500 L535,511" fill="none" stroke="#555555" stroke-width="1.4" stroke-dasharray="6 2.2 2 2.2"/>
<path d="M571,530 L592,542" fill="none" stroke="#555555" stroke-width="1.4" stroke-dasharray="6 2.2 2 2.2"/>
<ellipse cx="470.4" cy="473.7" rx="6.2" ry="6.6" transform="rotate(-20 470.4 473.7)" fill="#fff" stroke="#222" stroke-width="1.8"/>
<path d="M468,469 C466.5,472 466.5,476 468,479 M472.5,468.5 C471,471.5 471,476 472.5,479" fill="none" stroke="#888" stroke-width="0.9" stroke-linejoin="round" stroke-linecap="round" />
<ellipse cx="485" cy="482.8" rx="5.3" ry="7" transform="rotate(15 485 482.8)" fill="#fff" stroke="#222" stroke-width="1.8"/>
<ellipse cx="485.4" cy="482.5" rx="2.3" ry="3.2" transform="rotate(15 485.4 482.5)" fill="none" stroke="#666" stroke-width="0.9"/>
<path d="M508.5,509 L549,596.5 M519,507 L560.5,589.5" fill="none" stroke="#1e1e1e" stroke-width="1.4" stroke-linejoin="round" stroke-linecap="round" />
<path d="M544,597.6 C548,594 554,592 558,592 L562.3,589 C565,589 566.5,590.5 567.5,592.5 L588.2,640.8 C589.5,645 588,649.5 584,651.5 C580,653 574,653.5 570.5,651.5 L544,599 Z" fill="#fff" stroke="#1e1e1e" stroke-width="1.4" stroke-linejoin="round" stroke-linecap="round" />
<path d="M555,615.6 L570,607.8" fill="none" stroke="#666" stroke-width="0.9" stroke-linejoin="round" stroke-linecap="round" />
<path d="M545.5,601 L568,648" fill="none" stroke="#444" stroke-width="2.2" stroke-linejoin="round" stroke-linecap="round" />
<ellipse cx="576.7" cy="642" rx="2.5" ry="4.3" transform="rotate(-60 576.7 642)" fill="none" stroke="#555" stroke-width="0.9"/>
<path d="M546,598.5 C550,600 555,600 559,596 L562.3,589.5" fill="none" stroke="#444" stroke-width="1.0" stroke-linejoin="round" stroke-linecap="round" />
<ellipse cx="510" cy="497.9" rx="13.1" ry="17.4" transform="rotate(22 510 497.9)" fill="#fff" stroke="#111" stroke-width="2.2"/>
<ellipse cx="511.3" cy="498.3" rx="10.8" ry="14.6" transform="rotate(22 511.3 498.3)" fill="none" stroke="#888" stroke-width="1.0"/>
<ellipse cx="512.6" cy="498.8" rx="8" ry="11" transform="rotate(22 512.6 498.8)" fill="none" stroke="#999" stroke-width="0.9"/>
<ellipse cx="513.9" cy="499.2" rx="5.2" ry="7.2" transform="rotate(22 513.9 499.2)" fill="none" stroke="#999" stroke-width="0.9"/>
<ellipse cx="515.1" cy="499.6" rx="2.6" ry="2.8" transform="rotate(0 515.1 499.6)" fill="#fff" stroke="#555" stroke-width="1.0"/>
<path d="M565.53,533.12 L565.98,533.28 L566.51,533.28 L567.09,533.11 L567.71,532.78 L568.34,532.31 L568.96,531.72 L569.54,531.01 L570.06,530.23 L570.50,529.41 L570.85,528.57 L571.08,527.74 L571.20,526.96 L571.20,526.26 L571.07,525.67 L570.82,525.20 L570.47,524.88 L540.47,506.88 L540.02,506.72 L539.49,506.72 L538.91,506.89 L538.29,507.22 L537.66,507.69 L537.04,508.28 L536.46,508.99 L535.94,509.77 L535.50,510.59 L535.15,511.43 L534.92,512.26 L534.80,513.04 L534.80,513.74 L534.93,514.33 L535.18,514.80 L535.53,515.12 Z" fill="#fff" stroke="#1e1e1e" stroke-width="1.3" stroke-linejoin="round" stroke-linecap="round" />
<path d="M570.47,524.88 L570.02,524.72 L569.49,524.72 L568.91,524.89 L568.29,525.22 L567.66,525.69 L567.04,526.28 L566.46,526.99 L565.94,527.77 L565.50,528.59 L565.15,529.43 L564.92,530.26 L564.80,531.04 L564.80,531.74 L564.93,532.33 L565.18,532.80 L565.53,533.12" fill="none" stroke="#777" stroke-width="0.9099999999999999" stroke-linejoin="round" stroke-linecap="round" />
<path d="M551.5,514 L547.5,521.5 M555,516 L551,523.5" fill="none" stroke="#333" stroke-width="1.0" stroke-linejoin="round" stroke-linecap="round" />
<ellipse cx="568.2" cy="529.2" rx="1.6" ry="1.3" transform="rotate(0 568.2 529.2)" fill="none" stroke="#555" stroke-width="0.8"/>
<ellipse cx="601.4" cy="545.5" rx="8.8" ry="12.8" transform="rotate(18 601.4 545.5)" fill="none" stroke="#555" stroke-width="2.2"/>
<path d="M596,537 L596,553 C596,555 602,555 602,553 L602,537" fill="#fff" stroke="#444" stroke-width="1.2" stroke-linejoin="round" stroke-linecap="round" />
<ellipse cx="599.5" cy="534.3" rx="4" ry="2.6" transform="rotate(0 599.5 534.3)" fill="#ddd" stroke="#222" stroke-width="2.0"/>
<path d="M660,638 L567,737.5 M687,646 L592,746" fill="none" stroke="#1e1e1e" stroke-width="1.3" stroke-linejoin="round" stroke-linecap="round" />
<path d="M663.5,641 L570.5,740.5" fill="none" stroke="#1e1e1e" stroke-width="1.1" stroke-linejoin="round" stroke-linecap="round" />
<path d="M660,638.4 L670.7,605.7 C671.5,603.5 672.5,602 673.6,601.4 C676,600 678,599.6 680,599.6 C685,599.6 690,601 694.3,603.6 C697,605 699,607 699.8,609.5 L701,612 L689.3,644.3" fill="#fff" stroke="#1e1e1e" stroke-width="1.4" stroke-linejoin="round" stroke-linecap="round" />
<path d="M661.5,638.6 L688.6,644.6" fill="none" stroke="#1e1e1e" stroke-width="1.9" stroke-linejoin="round" stroke-linecap="round" />
<path d="M662.6,638.6 L672,611.4 M670.9,607.5 L674.3,611.4" fill="none" stroke="#333" stroke-width="1.1" stroke-linejoin="round" stroke-linecap="round" />
<ellipse cx="684.2" cy="619.6" rx="12.2" ry="14" transform="rotate(15 684.2 619.6)" fill="#fff" stroke="#333" stroke-width="1.3"/>
<ellipse cx="685.7" cy="621" rx="7.9" ry="10.4" transform="rotate(15 685.7 621)" fill="none" stroke="#333" stroke-width="1.1"/>
<ellipse cx="687.1" cy="621.4" rx="4.3" ry="5.7" transform="rotate(15 687.1 621.4)" fill="#fff" stroke="#333" stroke-width="1.2"/>
<ellipse cx="613.2" cy="710.6" rx="2.2" ry="2.8" transform="rotate(30 613.2 710.6)" fill="#fff" stroke="#333" stroke-width="1.1"/>
<path d="M567,737.5 C563.5,741 560.5,745 558.9,749.1 L535.4,816.6 L526,846 M592,746 C590.5,749.5 589.5,751.5 588.6,753.7 L565.7,820 L557.9,841.9" fill="none" stroke="#1e1e1e" stroke-width="1.3" stroke-linejoin="round" stroke-linecap="round" />
<path d="M570.5,740.5 C568,743 566.5,746 565.7,749.1 L540,818.9 M535.6,819.6 L529.1,845.3" fill="none" stroke="#1e1e1e" stroke-width="1.1" stroke-linejoin="round" stroke-linecap="round" />
<path d="M570.3,742.3 L593.1,748" fill="none" stroke="#1e1e1e" stroke-width="1.2" stroke-linejoin="round" stroke-linecap="round" />
<path d="M526,846 C525,849 525.3,851.3 526,853 C527,855 528,856 530,857.5 C533,859.5 537,860.5 541,860.8 L545.8,860.7 C549,860.3 551,859 552.5,857.5 C554.5,855 556,850 557,844.4 L557.9,841.9" fill="#fff" stroke="#1e1e1e" stroke-width="1.4" stroke-linejoin="round" stroke-linecap="round" />
<path d="M535.6,816.4 L564.7,823.2" fill="none" stroke="#1e1e1e" stroke-width="2.0" stroke-linejoin="round" stroke-linecap="round" />
<path d="M526,846 L531,847 L532,856.5" fill="none" stroke="#333" stroke-width="1.0" stroke-linejoin="round" stroke-linecap="round" />
<ellipse cx="545.9" cy="844.9" rx="11.1" ry="14.5" transform="rotate(-10 545.9 844.9)" fill="#fff" stroke="#333" stroke-width="1.2"/>
<ellipse cx="546.8" cy="845.7" rx="6.9" ry="10.5" transform="rotate(-10 546.8 845.7)" fill="none" stroke="#333" stroke-width="1.1"/>
<ellipse cx="547.2" cy="846.1" rx="3.9" ry="5.1" transform="rotate(-10 547.2 846.1)" fill="#fff" stroke="#333" stroke-width="1.1"/>
<ellipse cx="547.9" cy="846.1" rx="2.0" ry="2.4" transform="rotate(0 547.9 846.1)" fill="none" stroke="#555" stroke-width="0.9"/>
<path d="M615,713 L624,728" fill="none" stroke="#555555" stroke-width="1.4" stroke-dasharray="6 2.2 2 2.2"/>
<ellipse cx="630" cy="735.7" rx="7.8" ry="7.8" transform="rotate(0 630 735.7)" fill="#fff" stroke="#222" stroke-width="1.6"/>
<ellipse cx="630" cy="735.5" rx="4.3" ry="4.3" transform="rotate(0 630 735.5)" fill="none" stroke="#333" stroke-width="1.2"/>
<ellipse cx="629.5" cy="735.5" rx="1.8" ry="1.8" transform="rotate(0 629.5 735.5)" fill="none" stroke="#555" stroke-width="0.9"/>
<path d="M634.3,745 L638.6,749.3" fill="none" stroke="#555555" stroke-width="1.4" stroke-dasharray="6 2.2 2 2.2"/>
<ellipse cx="642" cy="753.5" rx="3.6" ry="3.6" transform="rotate(0 642 753.5)" fill="none" stroke="#222" stroke-width="2.2"/>
<path d="M643.5,757 C646,760 645,763 647.5,765 C650,767 648,770 654.5,775.5" fill="none" stroke="#222" stroke-width="2.4" stroke-linejoin="round" stroke-linecap="round" />
<path d="M646.5,764 L643.5,768" fill="none" stroke="#222" stroke-width="1.6" stroke-linejoin="round" stroke-linecap="round" />
<path d="M582,652 L602,693 L613,710" fill="none" stroke="#555555" stroke-width="1.4" stroke-dasharray="6 2.2 2 2.2"/>
<path d="M574,716 L603,693" fill="none" stroke="#555555" stroke-width="1.4" stroke-dasharray="6 2.2 2 2.2"/>
<path d="M568.58,716.91 L568.87,717.18 L569.25,717.37 L569.72,717.45 L570.26,717.43 L570.85,717.31 L571.46,717.09 L572.07,716.78 L572.66,716.40 L573.21,715.96 L573.69,715.47 L574.09,714.96 L574.38,714.44 L574.57,713.93 L574.64,713.46 L574.59,713.04 L574.42,712.69 L564.42,698.89 L564.13,698.62 L563.75,698.43 L563.28,698.35 L562.74,698.37 L562.15,698.49 L561.54,698.71 L560.93,699.02 L560.34,699.40 L559.79,699.84 L559.31,700.33 L558.91,700.84 L558.62,701.36 L558.43,701.87 L558.36,702.34 L558.41,702.76 L558.58,703.11 Z" fill="#fff" stroke="#1e1e1e" stroke-width="1.3" stroke-linejoin="round" stroke-linecap="round" />
<path d="M574.42,712.69 L574.13,712.42 L573.75,712.23 L573.28,712.15 L572.74,712.17 L572.15,712.29 L571.54,712.51 L570.93,712.82 L570.34,713.20 L569.79,713.64 L569.31,714.13 L568.91,714.64 L568.62,715.16 L568.43,715.67 L568.36,716.14 L568.41,716.56 L568.58,716.91" fill="none" stroke="#777" stroke-width="0.9099999999999999" stroke-linejoin="round" stroke-linecap="round" />
<path d="M541,684 C540,678 544,673 550.5,672.6 C556,672.5 559.5,677 560,683.6 L565,691.4 C567,693.5 567.5,696 566,698.5 L560,705 C557.5,707.5 554,707.5 552,705.5 L543.6,698.5 Z" fill="#fff" stroke="#1e1e1e" stroke-width="1.5" stroke-linejoin="round" stroke-linecap="round" />
<ellipse cx="549.5" cy="682" rx="4.5" ry="4" transform="rotate(-30 549.5 682)" fill="none" stroke="#666" stroke-width="0.9"/>
<ellipse cx="561.5" cy="701" rx="3.6" ry="2.0" transform="rotate(-54 561.5 701)" fill="#fff" stroke="#333" stroke-width="0.9"/>
<path d="M450.4,782 L461.3,752.1 C462.5,749.5 466,748.5 471.6,748.7 C476,749 479.5,751.5 479,755.6 L472.7,794.4" fill="#fff" stroke="#1e1e1e" stroke-width="1.4" stroke-linejoin="round" stroke-linecap="round" />
<path d="M475.5,756 L469.5,792" fill="none" stroke="#888" stroke-width="0.9" stroke-linejoin="round" stroke-linecap="round" />
<path d="M544.1,695.9 L538.0,701.2 L534.4,696.9 L540.4,691.7 Z" fill="#fff" stroke="#1e1e1e" stroke-width="1.3" stroke-linejoin="round" stroke-linecap="round" />
<path d="M539.0,702.2 L533.7,706.8 L528.2,700.5 L533.4,695.9 Z" fill="#fff" stroke="#1e1e1e" stroke-width="1.3" stroke-linejoin="round" stroke-linecap="round" />
<path d="M532.8,705.8 L524.5,713.0 L520.8,708.8 L529.1,701.5 Z" fill="#fff" stroke="#1e1e1e" stroke-width="1.3" stroke-linejoin="round" stroke-linecap="round" />
<path d="M525.5,714.2 L521.0,718.1 L515.2,711.5 L519.7,707.5 Z" fill="#fff" stroke="#1e1e1e" stroke-width="1.3" stroke-linejoin="round" stroke-linecap="round" />
<path d="M516.1,723.2 L518.4,725.8 Q519.7,727.3 518.2,728.6 L509.2,736.5 Q507.7,737.8 506.3,736.3 L504.0,733.7" fill="#fff" stroke="#1e1e1e" stroke-width="1.3" stroke-linejoin="round" stroke-linecap="round" />
<path d="M522.2,719.6 L501.9,737.3 L493.6,727.8 L514.0,710.1 Z" fill="#fff" stroke="#1e1e1e" stroke-width="1.3" stroke-linejoin="round" stroke-linecap="round" />
<path d="M500.6,735.9 L494.6,741.1 L488.8,734.5 L494.9,729.2 Z" fill="#fff" stroke="#1e1e1e" stroke-width="1.3" stroke-linejoin="round" stroke-linecap="round" />
<path d="M493.6,739.9 L473.9,757.0 L470.3,752.8 L489.9,735.7 Z" fill="#fff" stroke="#1e1e1e" stroke-width="1.3" stroke-linejoin="round" stroke-linecap="round" />
<path d="M473,754 L490,741.5" fill="none" stroke="#333" stroke-width="1.8" stroke-linejoin="round" stroke-linecap="round" />
<ellipse cx="467.5" cy="757.5" rx="3.5" ry="4.2" transform="rotate(-30 467.5 757.5)" fill="#fff" stroke="#555" stroke-width="1.0"/>
<path d="M465.51,808.81 L466.32,809.13 L467.26,809.18 L468.30,808.95 L469.38,808.45 L470.49,807.70 L471.56,806.74 L472.56,805.59 L473.45,804.31 L474.19,802.93 L474.77,801.52 L475.15,800.13 L475.31,798.81 L475.27,797.62 L475.01,796.59 L474.54,795.77 L473.89,795.19 L453.09,782.39 L452.28,782.07 L451.34,782.02 L450.30,782.25 L449.22,782.75 L448.11,783.50 L447.04,784.46 L446.04,785.61 L445.15,786.89 L444.41,788.27 L443.83,789.68 L443.45,791.07 L443.29,792.39 L443.33,793.58 L443.59,794.61 L444.06,795.43 L444.71,796.01 Z" fill="#fff" stroke="#1e1e1e" stroke-width="1.6" stroke-linejoin="round" stroke-linecap="round" />
<path d="M473.89,795.19 L473.08,794.87 L472.14,794.82 L471.10,795.05 L470.02,795.55 L468.91,796.30 L467.84,797.26 L466.84,798.41 L465.95,799.69 L465.21,801.07 L464.63,802.48 L464.25,803.87 L464.09,805.19 L464.13,806.38 L464.39,807.41 L464.86,808.23 L465.51,808.81" fill="none" stroke="#777" stroke-width="1.1199999999999999" stroke-linejoin="round" stroke-linecap="round" />
<path d="M441.5,785 L445,787" fill="none" stroke="#555555" stroke-width="1.4" stroke-dasharray="6 2.2 2 2.2"/>
<path d="M476,803 L481,806" fill="none" stroke="#555555" stroke-width="1.4" stroke-dasharray="6 2.2 2 2.2"/>
<path d="M494.14,825.13 L494.91,825.42 L495.79,825.45 L496.76,825.23 L497.77,824.75 L498.80,824.04 L499.79,823.12 L500.72,822.04 L501.54,820.82 L502.22,819.53 L502.74,818.20 L503.08,816.89 L503.23,815.65 L503.17,814.53 L502.92,813.57 L502.47,812.81 L501.86,812.27 L483.86,801.47 L483.09,801.18 L482.21,801.15 L481.24,801.37 L480.23,801.85 L479.20,802.56 L478.21,803.48 L477.28,804.56 L476.46,805.78 L475.78,807.07 L475.26,808.40 L474.92,809.71 L474.77,810.95 L474.83,812.07 L475.08,813.03 L475.53,813.79 L476.14,814.33 Z" fill="#fff" stroke="#1e1e1e" stroke-width="1.6" stroke-linejoin="round" stroke-linecap="round" />
<path d="M501.86,812.27 L501.09,811.98 L500.21,811.95 L499.24,812.17 L498.23,812.65 L497.20,813.36 L496.21,814.28 L495.28,815.36 L494.46,816.58 L493.78,817.87 L493.26,819.20 L492.92,820.51 L492.77,821.75 L492.83,822.87 L493.08,823.83 L493.53,824.59 L494.14,825.13" fill="none" stroke="#777" stroke-width="1.1199999999999999" stroke-linejoin="round" stroke-linecap="round" />
<path d="M504,819 L508,822" fill="none" stroke="#555555" stroke-width="1.4" stroke-dasharray="6 2.2 2 2.2"/>
<ellipse cx="514.5" cy="828" rx="7.6" ry="9.8" transform="rotate(18 514.5 828)" fill="#fff" stroke="#222" stroke-width="1.8"/>
<ellipse cx="514.8" cy="828.2" rx="3.4" ry="4.6" transform="rotate(18 514.8 828.2)" fill="none" stroke="#777" stroke-width="0.9"/>
<path d="M522,832 L527,836" fill="none" stroke="#555555" stroke-width="1.4" stroke-dasharray="6 2.2 2 2.2"/>
<path d="M558,852 L563,855" fill="none" stroke="#555555" stroke-width="1.4" stroke-dasharray="6 2.2 2 2.2"/>
<path d="M570.84,866.83 L571.60,867.05 L572.46,867.02 L573.38,866.73 L574.33,866.19 L575.27,865.42 L576.17,864.46 L576.99,863.33 L577.69,862.10 L578.26,860.79 L578.67,859.46 L578.90,858.17 L578.95,856.95 L578.81,855.87 L578.49,854.95 L578.00,854.25 L577.36,853.77 L570.16,850.17 L569.40,849.95 L568.54,849.98 L567.62,850.27 L566.67,850.81 L565.73,851.58 L564.83,852.54 L564.01,853.67 L563.31,854.90 L562.74,856.21 L562.33,857.54 L562.10,858.83 L562.05,860.05 L562.19,861.13 L562.51,862.05 L563.00,862.75 L563.64,863.23 Z" fill="#fff" stroke="#1e1e1e" stroke-width="1.6" stroke-linejoin="round" stroke-linecap="round" />
<path d="M577.36,853.77 L576.60,853.55 L575.74,853.58 L574.82,853.87 L573.87,854.41 L572.93,855.18 L572.03,856.14 L571.21,857.27 L570.51,858.50 L569.94,859.81 L569.53,861.14 L569.30,862.43 L569.25,863.65 L569.39,864.73 L569.71,865.65 L570.20,866.35 L570.84,866.83" fill="none" stroke="#777" stroke-width="1.1199999999999999" stroke-linejoin="round" stroke-linecap="round" />
<path d="M280.5,566 L285,563 L290,565 L298,570 L340,592 L345,593 L350,597 L350,605 L345,607 L344,610 L340,608 L336,606 L326,601 L350,634 C352,638 351,641 348,642 C345,643 343,641 342,639 L313,600 L285,583 L281,580 Z" fill="none" stroke="#a9c0e2" stroke-width="1.0" stroke-linejoin="round" stroke-linecap="round" />
<path d="M285,563 L285,583 M290,565 L290,572 L344,600 L344,610" fill="none" stroke="#bfd9e6" stroke-width="0.9" stroke-linejoin="round" stroke-linecap="round" />
<ellipse cx="300" cy="579" rx="2.5" ry="2.5" transform="rotate(0 300 579)" fill="none" stroke="#a9c0e2" stroke-width="1.0"/>
<ellipse cx="291" cy="576" rx="2" ry="2.2" transform="rotate(0 291 576)" fill="none" stroke="#bfd9e6" stroke-width="0.9"/>
<ellipse cx="316" cy="594" rx="2" ry="2.2" transform="rotate(0 316 594)" fill="none" stroke="#bfd9e6" stroke-width="0.9"/>
<ellipse cx="346.5" cy="638" rx="2" ry="2.5" transform="rotate(-30 346.5 638)" fill="none" stroke="#bfd9e6" stroke-width="0.9"/>
<ellipse cx="343" cy="607" rx="2" ry="2" transform="rotate(0 343 607)" fill="none" stroke="#bfd9e6" stroke-width="0.9"/>
<path d="M337,500 L407.4,482.2 C418,484.5 428,490.9 436,500 C443,510 446.3,522 446.3,534 L446.3,580 L441.8,596 C441.5,597.5 440.5,598 439,598.5 L398,615.5 C395,616.5 392.5,615 392,612 L389.6,541" fill="#fff" stroke="#1e1e1e" stroke-width="1.4" stroke-linejoin="round" stroke-linecap="round" />
<path d="M337,500 C335,500.5 334,502 334.3,504 L337.9,567 L336.5,571 L337.4,578 C338,582 340,584 343,583.5 L384.4,564.4 C387,563 388.8,561 388.8,558 L388.3,532 C388,527 385.5,523.5 381,521.5 L342.9,502" fill="#fff" stroke="#1e1e1e" stroke-width="1.4" stroke-linejoin="round" stroke-linecap="round" />
<path d="M342.6,502.3 L374.2,520 C380,522 384,524 386.3,528.3" fill="none" stroke="#666" stroke-width="0.9" stroke-linejoin="round" stroke-linecap="round" />
<ellipse cx="433" cy="514" rx="2.8" ry="3.5" transform="rotate(-20 433 514)" fill="none" stroke="#555" stroke-width="1.0"/>
<path d="M389,544.6 L322,580" fill="none" stroke="#686868" stroke-width="1.4" stroke-dasharray="9 2.5 2.5 2.5"/>
<path d="M382,603 C382,601.5 389.5,601.5 389.5,603 L389.5,617.5 C389.5,619 382,619 382,617.5 Z" fill="#fff" stroke="#1e1e1e" stroke-width="1.3" stroke-linejoin="round" stroke-linecap="round" />
<path d="M384,605 L384,616" fill="none" stroke="#777" stroke-width="0.8" stroke-linejoin="round" stroke-linecap="round" />
<path d="M320.6,507.5 L351.4,523.6 L280,565" fill="none" stroke="#686868" stroke-width="1.4" stroke-dasharray="9 2.5 2.5 2.5"/>
<path d="M389,544.6 L322,580 L352,600 L362,606" fill="none" stroke="#686868" stroke-width="1.4" stroke-dasharray="9 2.5 2.5 2.5"/>
<path d="M393.7,548 L408,556" fill="none" stroke="#686868" stroke-width="1.4" stroke-dasharray="9 2.5 2.5 2.5"/>
<ellipse cx="302" cy="578.2" rx="3.8" ry="3.8" transform="rotate(0 302 578.2)" fill="#5a5a5a" stroke="#1a1a1a" stroke-width="1.6"/>
<ellipse cx="302" cy="578.2" rx="1.6" ry="1.6" transform="rotate(0 302 578.2)" fill="#999" stroke="#222" stroke-width="0.9"/>
<ellipse cx="332.3" cy="600.5" rx="3.8" ry="3.8" transform="rotate(0 332.3 600.5)" fill="#5a5a5a" stroke="#1a1a1a" stroke-width="1.6"/>
<ellipse cx="332.3" cy="600.5" rx="1.6" ry="1.6" transform="rotate(0 332.3 600.5)" fill="none" stroke="#555" stroke-width="0.9"/>
<ellipse cx="315" cy="504.5" rx="4.1" ry="4.1" transform="rotate(0 315 504.5)" fill="#5a5a5a" stroke="#1a1a1a" stroke-width="1.7"/>
<ellipse cx="315" cy="504.5" rx="1.9" ry="1.9" transform="rotate(0 315 504.5)" fill="none" stroke="#555" stroke-width="0.9"/>
<ellipse cx="412.8" cy="559" rx="4.3" ry="4.3" transform="rotate(0 412.8 559)" fill="#5a5a5a" stroke="#1a1a1a" stroke-width="1.7"/>
<ellipse cx="412.8" cy="559" rx="1.9" ry="1.9" transform="rotate(0 412.8 559)" fill="none" stroke="#555" stroke-width="0.9"/>
<path d="M117.7,604 L117.7,674 L581.8,934.8 L581.8,864.4 L579,863" fill="none" stroke="#686868" stroke-width="1.4" stroke-dasharray="9 2.5 2.5 2.5"/>
<path d="M117.7,604 L123,604" fill="none" stroke="#686868" stroke-width="1.4" stroke-dasharray="9 2.5 2.5 2.5"/>
<path d="M141,790 L152.7,796.9" fill="none" stroke="#555555" stroke-width="1.4" stroke-dasharray="6 2.2 2 2.2"/>
<path d="M169.4,807 L176,810" fill="none" stroke="#555555" stroke-width="1.4" stroke-dasharray="6 2.2 2 2.2"/>
<ellipse cx="161" cy="802" rx="7.8" ry="10.2" transform="rotate(20 161 802)" fill="#fff" stroke="#222" stroke-width="1.9"/>
<ellipse cx="161.3" cy="802.3" rx="3.5" ry="5" transform="rotate(20 161.3 802.3)" fill="none" stroke="#666" stroke-width="0.9"/>
<ellipse cx="136.4" cy="780.2" rx="4.0" ry="5.6" transform="rotate(10 136.4 780.2)" fill="none" stroke="#444" stroke-width="2.5"/>
<path d="M136.8,786 L136.8,805" fill="none" stroke="#505050" stroke-width="6.0" stroke-linejoin="round" stroke-linecap="round" />
<path d="M136.8,789 L136.8,791.5 M136.8,795 L136.8,797.5 M136.8,800.5 L136.8,803" fill="none" stroke="#999" stroke-width="2.0" stroke-linejoin="round" stroke-linecap="round" />
<path d="M334.3,905.7 L356,918" fill="none" stroke="#555555" stroke-width="1.4" stroke-dasharray="6 2.2 2 2.2"/>
<path d="M374,927 L381,931" fill="none" stroke="#555555" stroke-width="1.4" stroke-dasharray="6 2.2 2 2.2"/>
<ellipse cx="365" cy="925.4" rx="7.4" ry="10.6" transform="rotate(22 365 925.4)" fill="#fff" stroke="#222" stroke-width="1.9"/>
<ellipse cx="365.4" cy="925.5" rx="3.6" ry="5.4" transform="rotate(22 365.4 925.5)" fill="none" stroke="#666" stroke-width="0.9"/>
<ellipse cx="386.8" cy="928.5" rx="4.0" ry="5.6" transform="rotate(10 386.8 928.5)" fill="none" stroke="#444" stroke-width="2.5"/>
<path d="M387.2,934 L387.2,955" fill="none" stroke="#505050" stroke-width="6.0" stroke-linejoin="round" stroke-linecap="round" />
<path d="M387.2,937 L387.2,939.5 M387.2,943 L387.2,945.5 M387.2,948.5 L387.2,951" fill="none" stroke="#999" stroke-width="2.0" stroke-linejoin="round" stroke-linecap="round" />
<path d="M172,812 L221.5,786 L256,766.5 L257.5,868.5 L280,876 M172,812 L174,848 L186,844 L187,848 L221.5,830 M221.5,786 L221.5,870 L275,902 L285,903 M221.5,870 L257.5,868.5" fill="none" stroke="#a9c0e2" stroke-width="1.0" stroke-linejoin="round" stroke-linecap="round" />
<path d="M172,814 L221.6,788 L252,769.5 L256,769 M225,870 L272,897 M221.5,875 L275,905" fill="none" stroke="#bfd9e6" stroke-width="0.9" stroke-linejoin="round" stroke-linecap="round" />
<ellipse cx="205.3" cy="808.9" rx="1.6" ry="2.2" transform="rotate(0 205.3 808.9)" fill="none" stroke="#bfd9e6" stroke-width="0.9"/>
<ellipse cx="186.4" cy="820" rx="1.6" ry="2.2" transform="rotate(0 186.4 820)" fill="none" stroke="#bfd9e6" stroke-width="0.9"/>
<ellipse cx="195" cy="822.6" rx="1.6" ry="2.2" transform="rotate(0 195 822.6)" fill="none" stroke="#bfd9e6" stroke-width="0.9"/>
<ellipse cx="205.3" cy="826" rx="1.6" ry="2.2" transform="rotate(0 205.3 826)" fill="none" stroke="#bfd9e6" stroke-width="0.9"/>
<ellipse cx="180.4" cy="831.1" rx="1.6" ry="2.2" transform="rotate(0 180.4 831.1)" fill="none" stroke="#bfd9e6" stroke-width="0.9"/>
<ellipse cx="186.4" cy="838" rx="1.6" ry="2.2" transform="rotate(0 186.4 838)" fill="none" stroke="#bfd9e6" stroke-width="0.9"/>
<ellipse cx="229.3" cy="793.4" rx="1.6" ry="2.2" transform="rotate(0 229.3 793.4)" fill="none" stroke="#bfd9e6" stroke-width="0.9"/>
<ellipse cx="249.9" cy="780.6" rx="1.6" ry="2.2" transform="rotate(0 249.9 780.6)" fill="none" stroke="#bfd9e6" stroke-width="0.9"/>
<ellipse cx="249" cy="806.3" rx="1.6" ry="2.2" transform="rotate(0 249 806.3)" fill="none" stroke="#bfd9e6" stroke-width="0.9"/>
<ellipse cx="229.3" cy="818.3" rx="1.6" ry="2.2" transform="rotate(0 229.3 818.3)" fill="none" stroke="#bfd9e6" stroke-width="0.9"/>
<ellipse cx="234.4" cy="845.7" rx="1.6" ry="2.2" transform="rotate(0 234.4 845.7)" fill="none" stroke="#bfd9e6" stroke-width="0.9"/>
<path d="M277,875.7 L358.6,832.9 L358.6,872.9 L277,911.4 Z M322,851 L356,834 L358.6,832.9 M322,851 L322,846 L356,829 L358.6,832.9 M277,911.4 L321.4,932.9 L358.6,914 L358.6,872.9 M285.7,909.3 L355,875 M320,897.3 L320.9,932" fill="none" stroke="#a9c0e2" stroke-width="1.0" stroke-linejoin="round" stroke-linecap="round" />
<ellipse cx="291.7" cy="883.6" rx="1.6" ry="2.2" transform="rotate(0 291.7 883.6)" fill="none" stroke="#bfd9e6" stroke-width="0.9"/>
<ellipse cx="300.3" cy="886.1" rx="1.6" ry="2.2" transform="rotate(0 300.3 886.1)" fill="none" stroke="#bfd9e6" stroke-width="0.9"/>
<ellipse cx="310.6" cy="872.4" rx="1.6" ry="2.2" transform="rotate(0 310.6 872.4)" fill="none" stroke="#bfd9e6" stroke-width="0.9"/>
<ellipse cx="310.6" cy="889.6" rx="1.6" ry="2.2" transform="rotate(0 310.6 889.6)" fill="none" stroke="#bfd9e6" stroke-width="0.9"/>
<ellipse cx="285.7" cy="894.7" rx="1.6" ry="2.2" transform="rotate(0 285.7 894.7)" fill="none" stroke="#bfd9e6" stroke-width="0.9"/>
<ellipse cx="291.7" cy="901.6" rx="1.6" ry="2.2" transform="rotate(0 291.7 901.6)" fill="none" stroke="#bfd9e6" stroke-width="0.9"/>
<ellipse cx="333.7" cy="855.3" rx="1.6" ry="2.2" transform="rotate(0 333.7 855.3)" fill="none" stroke="#bfd9e6" stroke-width="0.9"/>
<ellipse cx="353.4" cy="842.4" rx="1.6" ry="2.2" transform="rotate(0 353.4 842.4)" fill="none" stroke="#bfd9e6" stroke-width="0.9"/>
<ellipse cx="353.4" cy="868.1" rx="1.6" ry="2.2" transform="rotate(0 353.4 868.1)" fill="none" stroke="#bfd9e6" stroke-width="0.9"/>
<ellipse cx="333.7" cy="880.1" rx="1.6" ry="2.2" transform="rotate(0 333.7 880.1)" fill="none" stroke="#bfd9e6" stroke-width="0.9"/>
<ellipse cx="333.7" cy="905.9" rx="1.6" ry="2.2" transform="rotate(0 333.7 905.9)" fill="none" stroke="#bfd9e6" stroke-width="0.9"/>
<path d="M233.7,845.7 L280,868.9" fill="none" stroke="#555555" stroke-width="1.4" stroke-dasharray="6 2.2 2 2.2"/>
<path d="M274.9,766 L274.9,871.4 L281,874" fill="none" stroke="#686868" stroke-width="1.4" stroke-dasharray="9 2.5 2.5 2.5"/>
</svg>
</body></html>
